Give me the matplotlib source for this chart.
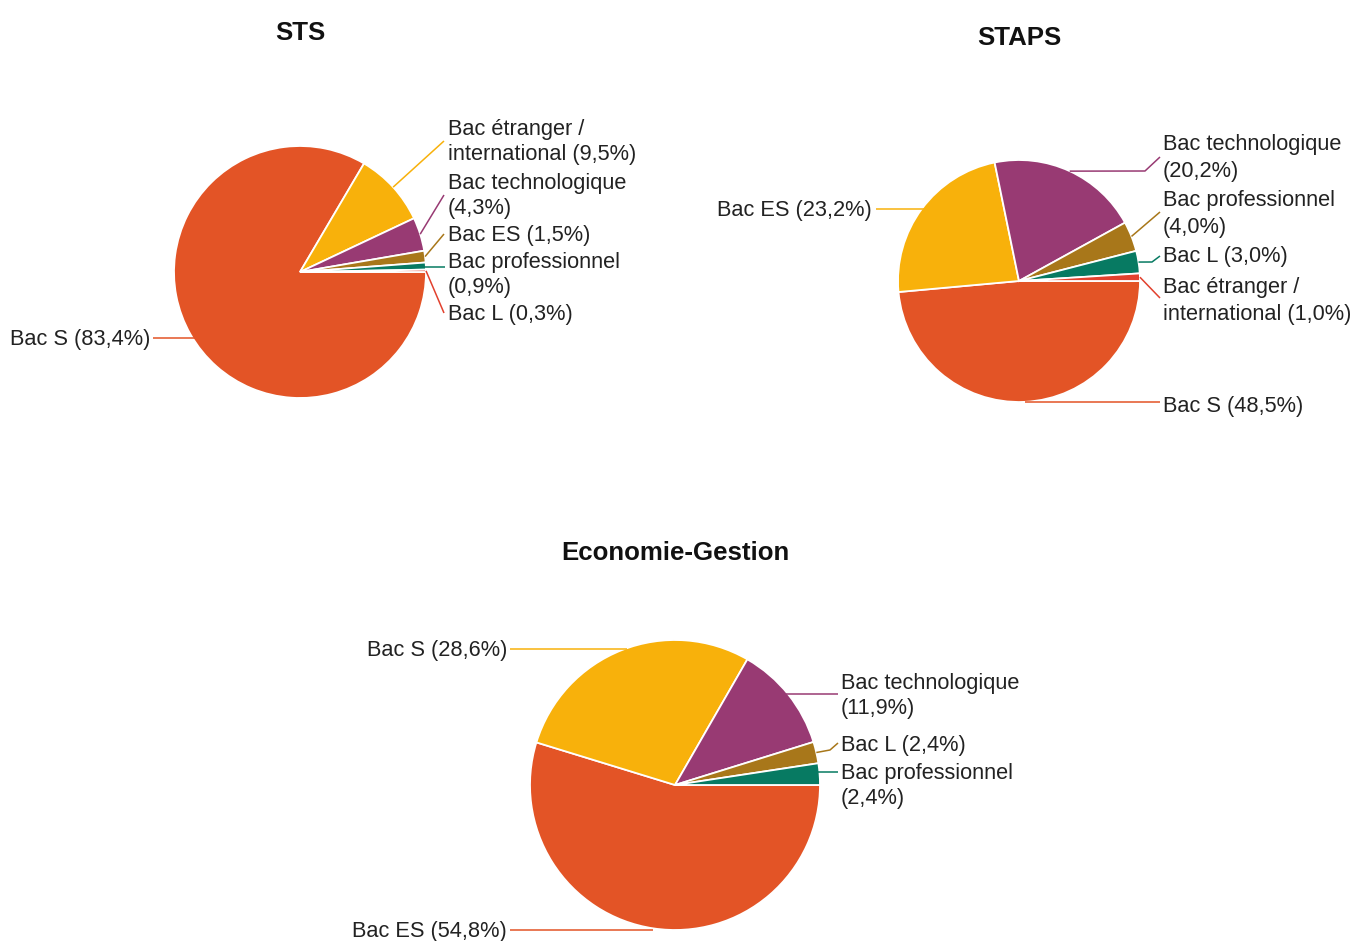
import textwrap
import numpy as np
import matplotlib
matplotlib.use("Agg")
import matplotlib.pyplot as plt

# ---------------- data ----------------
sts_names = ["Bac S", "Bac étranger / international", "Bac technologique",
             "Bac ES", "Bac professionnel", "Bac L"]
sts_values = [83.4, 9.5, 4.3, 1.5, 0.9, 0.3]

staps_names = ["Bac S", "Bac ES", "Bac technologique", "Bac professionnel",
               "Bac L", "Bac étranger / international"]
staps_values = [48.5, 23.2, 20.2, 4.0, 3.0, 1.0]

eco_names = ["Bac ES", "Bac S", "Bac technologique", "Bac L", "Bac professionnel"]
eco_values = [54.8, 28.6, 11.9, 2.4, 2.4]

titles = ["STS", "STAPS", "Economie-Gestion"]

# ---------------- style ----------------
palette = ["#E35426", "#F8B10B", "#983A73", "#A8771A", "#077A62", "#E2412E"]
W, H = 1370, 941
LABEL_PT = 15.7
TITLE_PT = 18.6
TEXT_COLOR = "#222222"
FONT = ["Liberation Sans", "DejaVu Sans"]

# ---------------- layout (pixel coords, y downwards) ----------------
# per pie: center, radius, title pos, line spacing,
# per label: (side, text_x, first_line_y, knee, end point)
# knee: None = straight from slice edge, "H" = horizontal from circle, or a point
layouts = [
    dict(center=(300, 272), radius=126, title=(300, 31), spacing=25,
         labels=[("L", 150, 338, "H", (153, 338)),
                 ("R", 448, 128, None, (444, 141)),
                 ("R", 448, 182, None, (444, 195)),
                 ("R", 448, 234, None, (444, 234)),
                 ("R", 448, 261, "H", (445, 267)),
                 ("R", 448, 313, None, (444, 313))]),
    dict(center=(1019, 281), radius=121, title=(1019, 36), spacing=27,
         labels=[("R", 1163, 405, "H", (1160, 402)),
                 ("L", 872, 209, "H", (876, 209)),
                 ("R", 1163, 143, (1145, 171), (1160, 157)),
                 ("R", 1163, 199, None, (1160, 212)),
                 ("R", 1163, 255, (1152, 262), (1160, 256)),
                 ("R", 1163, 286, None, (1160, 298))]),
    dict(center=(675, 785), radius=145, title=(675, 551), spacing=25,
         labels=[("L", 507, 930, "H", (510, 930)),
                 ("L", 507, 649, "H", (510, 649)),
                 ("R", 841, 682, "H", (838, 694)),
                 ("R", 841, 744, (830, 750), (838, 743)),
                 ("R", 841, 772, "H", (838, 772))]),
]

datasets = [(sts_names, sts_values), (staps_names, staps_values), (eco_names, eco_values)]

fig = plt.figure(figsize=(W / 100, H / 100), dpi=100)
ax = fig.add_axes([0, 0, 1, 1])


def Y(y):
    return H - y


for (names, values), lay, title in zip(datasets, layouts, titles):
    cx, cy = lay["center"]
    r = lay["radius"]
    ax.pie(values, colors=palette[:len(values)], startangle=0, counterclock=False,
           center=(cx, Y(cy)), radius=r, frame=True,
           wedgeprops=dict(edgecolor="white", linewidth=1.3))
    total = float(sum(values))
    cum = 0.0
    for i, (name, v) in enumerate(zip(names, values)):
        mid = -360.0 * (cum + v / 2.0) / total
        cum += v
        ex = cx + r * np.cos(np.radians(mid))
        ey = Y(cy) + r * np.sin(np.radians(mid))
        side, tx, ty, knee, end = lay["labels"][i]
        if isinstance(knee, str) and knee == "H":
            dy = Y(end[1]) - Y(cy)
            dx = np.sqrt(max(r * r - dy * dy, 0.0))
            if abs(dx) < 1e-6 or abs(dy) > r * 0.97:
                pts = [(ex, Y(end[1]))]
            else:
                pts = [(cx + np.sign(ex - cx) * dx - np.sign(ex - cx) * 2, Y(end[1]))]
        else:
            pts = [(ex, ey)]
            if knee is not None:
                pts.append((knee[0], Y(knee[1])))
        pts.append((end[0], Y(end[1])))
        xs, ys = zip(*pts)
        ax.plot(xs, ys, color=palette[i], lw=1.1, solid_capstyle="butt", zorder=1)
        label = f"{name} ({v:.1f}%)".replace(".", ",")
        lines = textwrap.wrap(label, 20)
        for k, line in enumerate(lines):
            ax.text(tx, Y(ty + k * lay["spacing"] + 7), line,
                    ha="left" if side == "R" else "right", va="baseline",
                    fontsize=LABEL_PT, color=TEXT_COLOR, family=FONT)
    tx, ty = lay["title"]
    ax.text(tx, Y(ty + 9), title, ha="center", va="baseline",
            fontsize=TITLE_PT, fontweight="bold", color="#111111", family=FONT)

ax.set_xlim(0, W)
ax.set_ylim(0, H)
ax.set_aspect("equal")
ax.set_axis_off()
fig.savefig("out.png", dpi=100, facecolor="white")
